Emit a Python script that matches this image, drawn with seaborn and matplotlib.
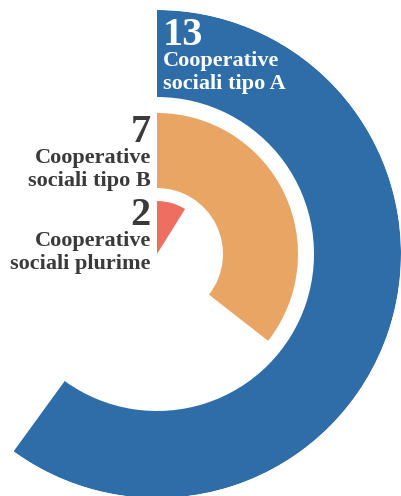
import matplotlib.pyplot as plt
import numpy as np
import seaborn as sns

# dati
labels = [['Cooperative', 'sociali tipo A'], ['Cooperative', 'sociali tipo B'], ['Cooperative', 'sociali plurime']]
values = [13, 7, 2]
arc_deg = [216, 128, 32]          # ampiezza degli archi come appare nel grafico
inner_r = [157, 66, 0]
outer_r = [244, 141, 53]
colors = ['#2e6da8', '#e8a564', '#ee6f62']

sns.set_theme(style='white')
plt.rcParams['font.family'] = ['Liberation Serif', 'DejaVu Serif']

W, H = 401, 496
fig = plt.figure(figsize=(W / 100, H / 100), dpi=100)
cx, cy, R = 157, 254, 244
ax = fig.add_axes([(cx - R) / W, (H - cy - R) / H, 2 * R / W, 2 * R / H], projection='polar')
ax.set_theta_zero_location('N')
ax.set_theta_direction(-1)

for v, a, r0, r1, c in zip(values, arc_deg, inner_r, outer_r, colors):
    th = np.deg2rad(a)
    ax.bar(th / 2, r1 - r0, width=th, bottom=r0, color=c, edgecolor='none', align='center')

ax.set_ylim(0, R)
ax.set_axis_off()

dark = '#3a3a3a'
# etichette: (x, baseline del numero, allineamento, colore)
txt = [
    (163, 45, 'left', 'white'),
    (151, 142, 'right', dark),
    (151, 225, 'right', dark),
]
for (x, y, ha, col), v, lab in zip(txt, values, labels):
    fig.text(x / W, 1 - y / H, str(v), ha=ha, va='baseline', fontsize=29, fontweight='bold', color=col)
    for i, line in enumerate(lab):
        fig.text(x / W, 1 - (y + 21 + 23 * i) / H, line, ha=ha, va='baseline', fontsize=16,
                 fontweight='bold', color=col)

fig.savefig('out.png', dpi=100)
